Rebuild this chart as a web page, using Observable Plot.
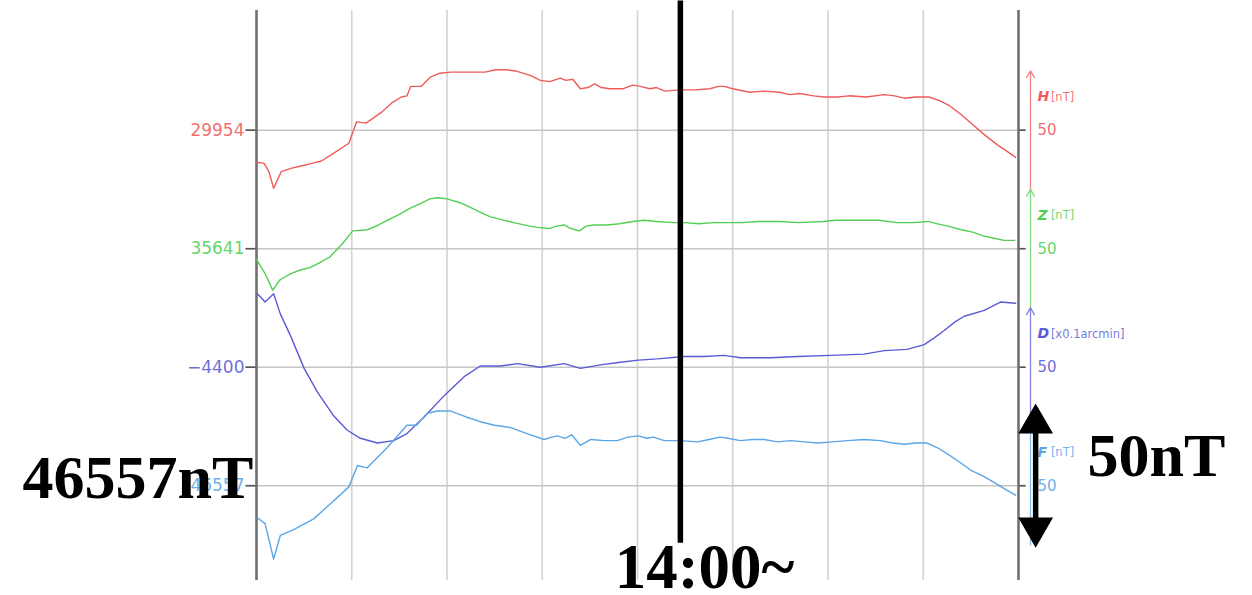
<!DOCTYPE html>
<html>
<head>
<meta charset="utf-8">
<script src="https://cdn.jsdelivr.net/npm/d3@7"></script>
<script src="https://cdn.jsdelivr.net/npm/@observablehq/plot@0.6"></script>
<style>
  body { margin: 0; background: #fff; }
</style>
</head>
<body>
<div id="chart"></div>
<script>
// Geomagnetic components, their base readings (value on each panel's grid line),
// units and trace colours.
const components = ["H", "Z", "D", "F"];
const baseValues = [29954, 35641, -4400, 46557];
const unitLabels = ["[nT]", "[nT]", "[x0.1arcmin]", "[nT]"];
const rightTickLabel = 50;          // right-hand scale value at each grid line
const panelSpan = 100;              // right-hand scale range per component
const colors = ["#ef5b5b", "#52cf52", "#5a5ad6", "#5aa6e6"];

// Readings as [hours since start of record, value]
const hData = [
  [0, 29927], [0.08, 29926], [0.13, 29919], [0.18, 29905], [0.26, 29919], [0.37, 29922],
  [0.48, 29924], [0.58, 29926], [0.68, 29928], [0.78, 29933], [0.97, 29943], [1.05, 29961],
  [1.15, 29960], [1.31, 29969], [1.42, 29977], [1.52, 29982], [1.58, 29983], [1.62, 29991],
  [1.73, 29991], [1.83, 29999], [1.92, 30002], [2.04, 30003], [2.2, 30003], [2.4, 30003],
  [2.51, 30005], [2.62, 30005], [2.72, 30004], [2.88, 30000], [2.98, 29996], [3.08, 29995],
  [3.19, 29998], [3.25, 29996], [3.32, 29997], [3.40, 29989], [3.48, 29990], [3.55, 29993],
  [3.62, 29990], [3.71, 29989], [3.85, 29989], [3.95, 29992], [4.03, 29991], [4.13, 29989],
  [4.2, 29990], [4.29, 29987], [4.44, 29988], [4.6, 29988], [4.76, 29989], [4.85, 29991],
  [4.91, 29991], [5.0, 29989], [5.18, 29986], [5.32, 29987], [5.49, 29986], [5.6, 29984],
  [5.70, 29985], [5.85, 29983], [5.96, 29982], [6.1, 29982], [6.22, 29983], [6.4, 29982],
  [6.59, 29984], [6.7, 29983], [6.80, 29981], [6.92, 29982], [7.06, 29982], [7.17, 29979],
  [7.27, 29975], [7.4, 29967], [7.53, 29958], [7.66, 29949], [7.79, 29941], [7.9, 29935],
  [7.97, 29931]
];
const zData = [
  [0, 35632], [0.09, 35620], [0.17, 35606], [0.25, 35615], [0.36, 35620], [0.46, 35623],
  [0.56, 35625], [0.66, 35629], [0.77, 35634], [0.9, 35645], [1.01, 35656], [1.17, 35657],
  [1.28, 35661], [1.40, 35666], [1.5, 35670], [1.61, 35675], [1.72, 35679], [1.82, 35683],
  [1.9, 35684], [2.00, 35683], [2.13, 35680], [2.24, 35676], [2.34, 35672], [2.45, 35668],
  [2.55, 35666], [2.7, 35663], [2.87, 35660], [2.95, 35659], [3.07, 35658], [3.15, 35660],
  [3.23, 35661], [3.3, 35658], [3.39, 35656], [3.46, 35660], [3.54, 35661], [3.68, 35661],
  [3.81, 35662], [3.95, 35664], [4.07, 35665], [4.2, 35664], [4.38, 35663], [4.5, 35663],
  [4.64, 35662], [4.8, 35663], [4.96, 35663], [5.1, 35663], [5.27, 35664], [5.5, 35664],
  [5.69, 35663], [5.95, 35664], [6.08, 35665], [6.21, 35665], [6.4, 35665], [6.53, 35665],
  [6.73, 35663], [6.9, 35663], [7.05, 35664], [7.15, 35662], [7.26, 35660], [7.4, 35657],
  [7.52, 35655], [7.62, 35652], [7.73, 35650], [7.85, 35648], [7.96, 35648]
];
const dData = [
  [0.01, -4338], [0.09, -4345], [0.18, -4338], [0.25, -4355], [0.36, -4374], [0.5, -4401],
  [0.64, -4421], [0.81, -4441], [0.95, -4453], [1.09, -4460], [1.27, -4464], [1.44, -4462],
  [1.58, -4456], [1.76, -4442], [1.97, -4424], [2.18, -4408], [2.35, -4399], [2.56, -4399],
  [2.74, -4397], [2.98, -4400], [3.23, -4397], [3.4, -4401], [3.61, -4398], [3.8, -4396],
  [4.01, -4394], [4.21, -4393], [4.49, -4391], [4.7, -4391], [4.91, -4390], [5.08, -4392],
  [5.4, -4392], [5.68, -4391], [6.03, -4390], [6.38, -4389], [6.59, -4386], [6.83, -4385],
  [7.01, -4381], [7.12, -4375], [7.22, -4369], [7.33, -4362], [7.43, -4357], [7.64, -4352],
  [7.81, -4345], [7.97, -4346]
];
const fData = [
  [0.01, 46530], [0.09, 46525], [0.18, 46495], [0.25, 46515], [0.39, 46520], [0.6, 46529],
  [0.78, 46542], [0.97, 46556], [1.06, 46574], [1.16, 46572], [1.37, 46589], [1.58, 46608],
  [1.68, 46608], [1.79, 46618], [1.9, 46620], [2.04, 46620], [2.2, 46615], [2.35, 46611],
  [2.5, 46608], [2.67, 46606], [2.84, 46601], [3.02, 46596], [3.1, 46598], [3.16, 46599],
  [3.24, 46597], [3.31, 46600], [3.4, 46591], [3.51, 46596], [3.65, 46595], [3.79, 46595],
  [3.9, 46598], [4.01, 46599], [4.1, 46597], [4.17, 46598], [4.28, 46595], [4.45, 46595],
  [4.63, 46594], [4.75, 46596], [4.87, 46598], [4.95, 46597], [5.08, 46595], [5.2, 46596],
  [5.33, 46596], [5.47, 46594], [5.61, 46595], [5.75, 46594], [5.89, 46593], [6.05, 46594],
  [6.2, 46595], [6.38, 46596], [6.55, 46595], [6.68, 46593], [6.8, 46592], [6.92, 46593],
  [7.04, 46593], [7.15, 46589], [7.25, 46584], [7.38, 46577], [7.5, 46570], [7.63, 46565],
  [7.76, 46559], [7.88, 46553], [7.97, 46549]
];
const seriesData = [hData, zData, dData, fData];

// Time marker and annotation texts
const markerHour = 4.45;
const markerLabel = "14:00~";
const scaleBarLabel = "50nT";

// Each component gets its own band; grid line of component i sits at panelY(i).
const panelY = i => 400 - 100 * i;
const yOf = (i, v) => panelY(i) + (v - baseValues[i]);

const rows = seriesData.flatMap((arr, i) =>
  arr.map(([t, v]) => ({c: components[i], t, y: yOf(i, v)}))
);

const yTop = 509, yBottom = 20;
const xRight = 8.126;            // position of the right-hand component scales
const serif = "Liberation Serif, Times New Roman, serif";
const sans = "DejaVu Sans, Verdana, sans-serif";
const fmt = d3.format("d");

const chart = Plot.plot({
  width: 1252,
  height: 595,
  marginLeft: 256,
  marginRight: 234,
  marginTop: 10,
  marginBottom: 15,
  style: {background: "white", fontFamily: sans},
  x: {domain: [0, 8], axis: null},
  y: {domain: [20, 501], axis: null},
  color: {domain: components, range: colors},
  marks: [
    // vertical hour grid
    Plot.ruleX(d3.range(1, 8), {y1: 501, y2: yBottom, stroke: "#d2d2d2", strokeWidth: 1.6}),
    // horizontal grid at each component's base value
    Plot.ruleY(components, {y: (d, i) => panelY(i), x1: -0.11, x2: 8.08, stroke: "#c6c6c6", strokeWidth: 1.6}),
    Plot.ruleY(components, {y: (d, i) => panelY(i), x1: -0.11, x2: 0, stroke: "#555", strokeWidth: 1.6}),
    Plot.ruleY(components, {y: (d, i) => panelY(i), x1: 8, x2: 8.08, stroke: "#555", strokeWidth: 1.6}),
    // frame axes
    Plot.ruleX([0, 8], {y1: 501, y2: yBottom, stroke: "#707070", strokeWidth: 2.6}),
    // traces
    Plot.line(rows, {x: "t", y: "y", z: "c", stroke: "c", strokeWidth: 1.4, curve: "linear"}),
    // left-hand base values
    Plot.text(components, {
      x: 0, y: (d, i) => panelY(i), text: (d, i) => fmt(baseValues[i]),
      fill: d => d, dx: -12, textAnchor: "end", fontSize: 17, fillOpacity: 0.9
    }),
    // right-hand component scales
    Plot.arrow(components, {
      x1: xRight, x2: xRight,
      y1: (d, i) => panelY(i) - panelSpan / 2, y2: (d, i) => panelY(i) + panelSpan / 2,
      stroke: d => d, strokeWidth: 1.3, strokeOpacity: 0.75, headLength: 9, inset: 0
    }),
    Plot.text(components, {
      x: 8.2, y: (d, i) => panelY(i) + 28, text: d => d,
      fill: d => d, textAnchor: "start", fontSize: 14, fontWeight: "bold", fontStyle: "italic",
      fontFamily: sans
    }),
    Plot.text(components, {
      x: 8.34, y: (d, i) => panelY(i) + 28, text: (d, i) => unitLabels[i],
      fill: d => d, textAnchor: "start", fontSize: 11.5, fillOpacity: 0.85
    }),
    Plot.text(components, {
      x: 8.2, y: (d, i) => panelY(i), text: () => String(rightTickLabel),
      fill: d => d, textAnchor: "start", fontSize: 15, fillOpacity: 0.9
    }),
    // time marker
    Plot.ruleX([markerHour], {y1: yTop, y2: 51.5, stroke: "black", strokeWidth: 5.5}),
    Plot.text([markerLabel], {
      x: 3.76, y: 13.5, text: d => d, textAnchor: "start", lineAnchor: "bottom",
      fontFamily: serif, fontWeight: "bold", fontSize: 63, fill: "black"
    }),
    // F base value annotation
    Plot.text([fmt(baseValues[3]) + "nT"], {
      x: -2.457, y: 90, text: d => d, textAnchor: "start", lineAnchor: "bottom",
      fontFamily: serif, fontWeight: "bold", fontSize: 62, fill: "black"
    }),
    // scale bar annotation
    Plot.ruleX([8.18], {y1: 155, y2: 62, stroke: "black", strokeWidth: 5.5}),
    Plot.dot([0], {x: 8.18, y: 152.5, symbol: "triangle", r: 12.9, fill: "black", stroke: "none"}),
    Plot.dot([0], {x: 8.18, y: 64.6, symbol: "triangle", r: 12.9, rotate: 180, fill: "black", stroke: "none"}),
    Plot.text([scaleBarLabel], {
      x: 8.724, y: 108.6, text: d => d, textAnchor: "start", lineAnchor: "bottom",
      fontFamily: serif, fontWeight: "bold", fontSize: 62, fill: "black"
    })
  ]
});

document.getElementById("chart").append(chart);
</script>
</body>
</html>
